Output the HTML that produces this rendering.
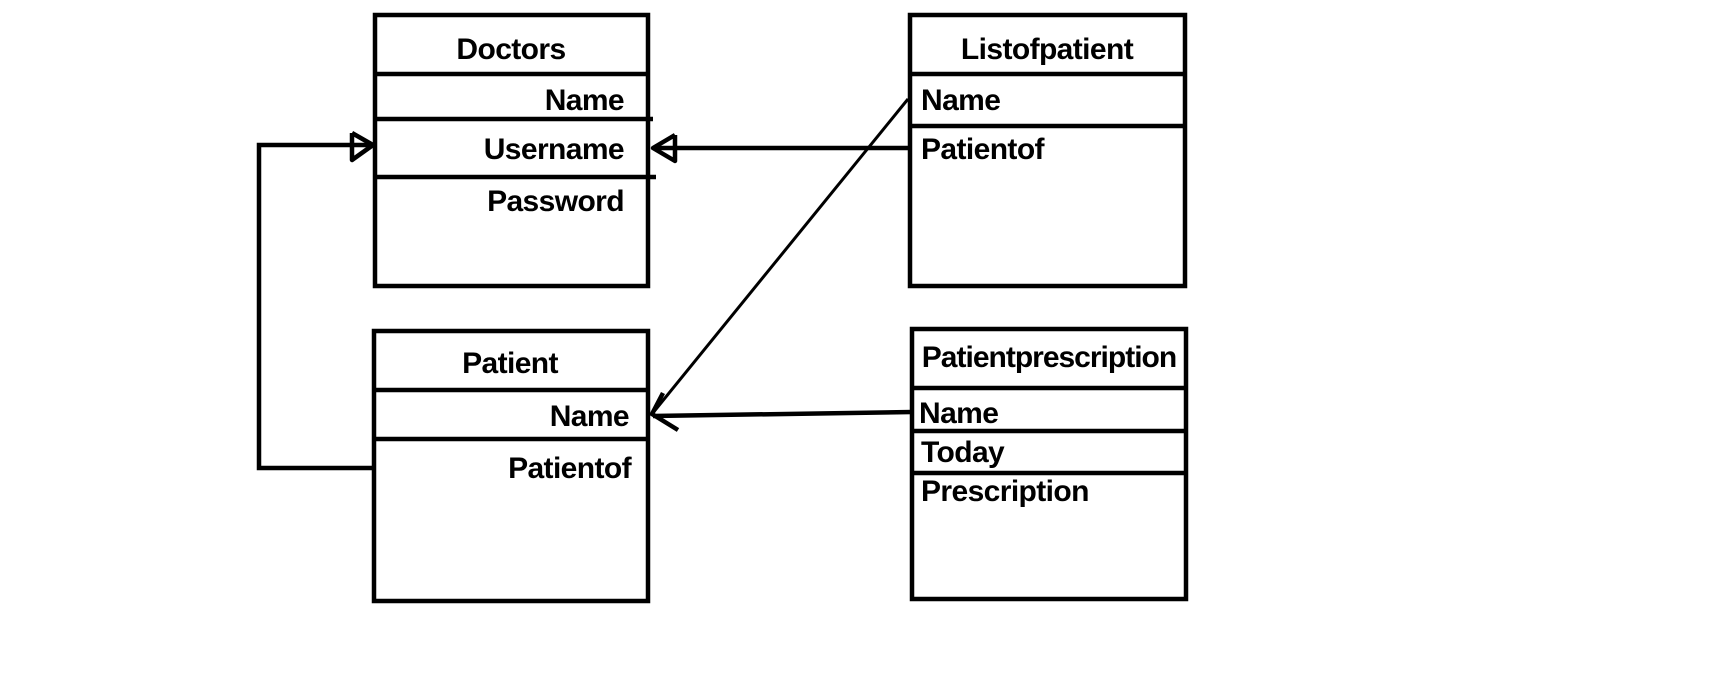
<!DOCTYPE html>
<html><head><style>
html,body{margin:0;padding:0;background:#fff;width:1730px;height:673px;overflow:hidden}
svg text{font-family:"Liberation Sans",sans-serif;font-weight:bold;font-size:30px;letter-spacing:-0.6px;fill:#000}
</style></head><body>
<svg width="1730" height="673" viewBox="0 0 1730 673" xmlns="http://www.w3.org/2000/svg">
<g fill="none" stroke="#000" stroke-width="4.5">
<rect x="375" y="15" width="273" height="271"/>
<line x1="375" y1="74" x2="648" y2="74"/>
<line x1="375" y1="119" x2="653" y2="119"/>
<line x1="375" y1="177" x2="656" y2="177"/>
<rect x="910" y="15" width="275" height="271"/>
<line x1="910" y1="74" x2="1185" y2="74"/>
<line x1="910" y1="126" x2="1185" y2="126"/>
<rect x="374" y="331" width="274" height="270"/>
<line x1="374" y1="390" x2="648" y2="390"/>
<line x1="374" y1="439" x2="648" y2="439"/>
<rect x="912" y="329" width="274" height="270"/>
<line x1="912" y1="388" x2="1186" y2="388"/>
<line x1="912" y1="431" x2="1186" y2="431"/>
<line x1="912" y1="473" x2="1186" y2="473"/>
<polyline points="373,468 259,468 259,145 373,145"/>
<polyline points="352,133 373,145 352,160 352,133" stroke-linejoin="round"/>
<line x1="910" y1="148" x2="653" y2="148"/>
<polyline points="675,135 653,148 675,161 675,135" stroke-linejoin="round"/>
<line x1="908" y1="99" x2="652" y2="414" stroke-width="3"/>
<line x1="912" y1="412" x2="653" y2="416"/>
<polyline points="663,393 652,414 678,430" stroke-linejoin="round"/>
</g>
<text x="511" y="59" text-anchor="middle">Doctors</text>
<text x="624" y="110" text-anchor="end">Name</text>
<text x="624" y="159" text-anchor="end">Username</text>
<text x="624" y="211" text-anchor="end">Password</text>
<text x="1047" y="59" text-anchor="middle">Listofpatient</text>
<text x="921" y="110">Name</text>
<text x="921" y="159">Patientof</text>
<text x="510" y="373" text-anchor="middle">Patient</text>
<text x="629" y="426" text-anchor="end">Name</text>
<text x="631" y="478" text-anchor="end">Patientof</text>
<text x="1049" y="367" text-anchor="middle" style="letter-spacing:-1px">Patientprescription</text>
<text x="919" y="423">Name</text>
<text x="921" y="462">Today</text>
<text x="921" y="501">Prescription</text>
</svg>
</body></html>
